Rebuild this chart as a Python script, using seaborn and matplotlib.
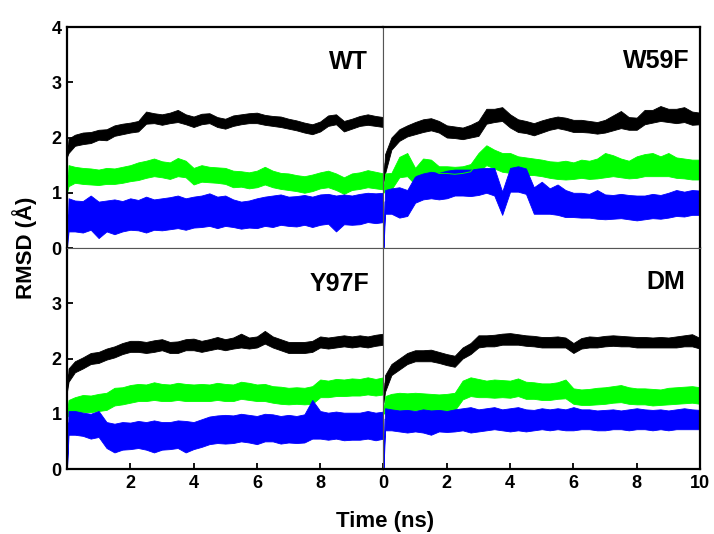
import numpy as np
import pandas as pd
import matplotlib
matplotlib.use("Agg")
import matplotlib.pyplot as plt
import seaborn as sns

# time axis (ns): start point, first frame, then every 0.25 ns
TIME_NS = np.r_[0.0, 0.05, np.arange(0.25, 10.01, 0.25)]

# ------------------ RMSD envelopes (lower / upper edge of each noisy trace) ------------------
WT_BLACK_HI = [1.65, 1.98, 2.05, 2.09, 2.10, 2.14, 2.15, 2.22, 2.25, 2.27, 2.30, 2.47, 2.44, 2.42,
               2.45, 2.50, 2.42, 2.38, 2.43, 2.44, 2.37, 2.34, 2.40, 2.42, 2.44, 2.45, 2.41, 2.39,
               2.38, 2.34, 2.31, 2.27, 2.24, 2.29, 2.40, 2.42, 2.30, 2.34, 2.39, 2.42, 2.39, 2.37]
WT_BLACK_LO = [1.65, 1.72, 1.85, 1.88, 1.90, 1.96, 1.95, 2.03, 2.06, 2.09, 2.11, 2.25, 2.26, 2.23,
               2.26, 2.28, 2.24, 2.19, 2.24, 2.26, 2.19, 2.16, 2.21, 2.24, 2.26, 2.26, 2.23, 2.21,
               2.19, 2.16, 2.13, 2.09, 2.06, 2.11, 2.21, 2.24, 2.11, 2.16, 2.21, 2.23, 2.21, 2.19]
WT_GREEN_HI = [1.00, 1.50, 1.47, 1.45, 1.44, 1.42, 1.45, 1.44, 1.47, 1.50, 1.55, 1.58, 1.62, 1.57,
               1.55, 1.63, 1.58, 1.45, 1.50, 1.47, 1.46, 1.45, 1.40, 1.39, 1.37, 1.40, 1.47, 1.40,
               1.36, 1.35, 1.32, 1.30, 1.33, 1.37, 1.40, 1.35, 1.28, 1.35, 1.37, 1.41, 1.38, 1.35]
WT_GREEN_LO = [1.00, 1.12, 1.18, 1.16, 1.15, 1.14, 1.16, 1.16, 1.18, 1.21, 1.23, 1.27, 1.30, 1.28,
               1.25, 1.30, 1.28, 1.15, 1.20, 1.19, 1.18, 1.16, 1.10, 1.11, 1.08, 1.10, 1.15, 1.10,
               1.07, 1.05, 1.03, 1.00, 1.03, 1.08, 1.10, 1.05, 0.98, 1.05, 1.07, 1.10, 1.08, 1.06]
WT_BLUE_HI = [0.00, 0.90, 0.86, 0.85, 0.95, 0.84, 0.86, 0.88, 0.85, 0.90, 0.87, 0.93, 0.88, 0.90,
              0.92, 0.95, 0.90, 0.93, 0.95, 0.99, 0.93, 0.95, 0.88, 0.84, 0.86, 0.90, 0.93, 0.95,
              0.97, 0.93, 0.94, 0.96, 0.93, 0.97, 0.98, 0.95, 0.97, 0.95, 0.98, 1.00, 0.99, 1.00]
WT_BLUE_LO = [0.00, 0.30, 0.30, 0.28, 0.33, 0.18, 0.30, 0.25, 0.30, 0.33, 0.32, 0.28, 0.33, 0.32,
              0.34, 0.36, 0.33, 0.37, 0.38, 0.40, 0.36, 0.40, 0.38, 0.35, 0.37, 0.36, 0.40, 0.38,
              0.42, 0.40, 0.39, 0.42, 0.38, 0.42, 0.44, 0.30, 0.43, 0.42, 0.43, 0.47, 0.45, 0.47]

W59F_BLACK_HI = [1.20, 1.70, 2.00, 2.15, 2.22, 2.28, 2.33, 2.35, 2.30, 2.22, 2.20, 2.18, 2.23, 2.30,
                 2.52, 2.52, 2.55, 2.42, 2.33, 2.30, 2.26, 2.31, 2.35, 2.38, 2.36, 2.32, 2.32, 2.30,
                 2.28, 2.32, 2.40, 2.48, 2.37, 2.36, 2.50, 2.50, 2.57, 2.52, 2.52, 2.55, 2.47, 2.45]
W59F_BLACK_LO = [1.20, 1.35, 1.78, 1.94, 2.02, 2.06, 2.10, 2.13, 2.09, 2.00, 1.99, 1.97, 2.00, 2.03,
                 2.25, 2.28, 2.30, 2.18, 2.10, 2.08, 2.04, 2.09, 2.14, 2.17, 2.14, 2.10, 2.10, 2.09,
                 2.07, 2.09, 2.13, 2.17, 2.14, 2.14, 2.24, 2.27, 2.30, 2.28, 2.26, 2.28, 2.23, 2.24]
W59F_GREEN_HI = [1.00, 1.35, 1.36, 1.65, 1.72, 1.45, 1.62, 1.60, 1.48, 1.48, 1.47, 1.48, 1.52, 1.72,
                 1.86, 1.78, 1.72, 1.72, 1.66, 1.64, 1.62, 1.60, 1.57, 1.56, 1.58, 1.55, 1.60, 1.58,
                 1.62, 1.72, 1.68, 1.62, 1.58, 1.66, 1.70, 1.72, 1.66, 1.72, 1.64, 1.62, 1.60, 1.60]
W59F_GREEN_LO = [1.00, 1.05, 1.06, 1.28, 1.30, 1.15, 1.28, 1.26, 1.22, 1.22, 1.20, 1.22, 1.24, 1.38,
                 1.50, 1.44, 1.38, 1.36, 1.34, 1.32, 1.32, 1.30, 1.27, 1.25, 1.24, 1.25, 1.27, 1.25,
                 1.26, 1.28, 1.30, 1.28, 1.26, 1.27, 1.30, 1.30, 1.30, 1.30, 1.27, 1.26, 1.24, 1.24]
W59F_BLUE_HI = [0.00, 1.05, 1.08, 1.10, 1.05, 1.30, 1.35, 1.38, 1.36, 1.40, 1.42, 1.42, 1.42, 1.44,
                1.45, 1.45, 1.02, 1.45, 1.48, 1.44, 1.10, 1.20, 1.08, 1.15, 1.05, 1.00, 1.00, 0.98,
                1.05, 0.97, 0.96, 0.98, 0.96, 0.95, 0.95, 0.98, 0.96, 1.00, 1.05, 1.02, 1.05, 1.04]
W59F_BLUE_LO = [0.00, 0.62, 0.62, 0.55, 0.58, 0.82, 0.88, 0.90, 0.88, 0.90, 0.95, 0.95, 0.94, 0.96,
                1.00, 0.95, 0.60, 1.02, 1.02, 0.98, 0.62, 0.62, 0.62, 0.60, 0.56, 0.56, 0.55, 0.55,
                0.53, 0.52, 0.53, 0.54, 0.52, 0.50, 0.52, 0.54, 0.53, 0.55, 0.58, 0.57, 0.60, 0.60]

Y97F_BLACK_HI = [1.40, 1.82, 1.95, 2.02, 2.10, 2.12, 2.18, 2.22, 2.28, 2.32, 2.32, 2.30, 2.33, 2.35,
                 2.30, 2.31, 2.35, 2.36, 2.32, 2.35, 2.39, 2.35, 2.38, 2.45, 2.38, 2.40, 2.50, 2.40,
                 2.35, 2.30, 2.30, 2.30, 2.32, 2.40, 2.38, 2.40, 2.42, 2.40, 2.42, 2.40, 2.43, 2.45]
Y97F_BLACK_LO = [1.40, 1.58, 1.75, 1.82, 1.90, 1.92, 1.98, 2.02, 2.08, 2.12, 2.12, 2.10, 2.12, 2.15,
                 2.10, 2.10, 2.15, 2.15, 2.12, 2.15, 2.18, 2.15, 2.18, 2.20, 2.18, 2.20, 2.27, 2.20,
                 2.15, 2.10, 2.10, 2.10, 2.12, 2.20, 2.18, 2.20, 2.22, 2.20, 2.22, 2.20, 2.23, 2.25]
Y97F_GREEN_HI = [1.00, 1.25, 1.30, 1.34, 1.33, 1.36, 1.38, 1.47, 1.48, 1.52, 1.54, 1.53, 1.57, 1.54,
                 1.53, 1.56, 1.54, 1.53, 1.54, 1.53, 1.56, 1.54, 1.53, 1.58, 1.56, 1.53, 1.54, 1.50,
                 1.49, 1.47, 1.48, 1.47, 1.50, 1.62, 1.60, 1.63, 1.62, 1.64, 1.63, 1.66, 1.63, 1.66]
Y97F_GREEN_LO = [1.00, 0.95, 1.00, 1.03, 1.03, 1.05, 1.07, 1.15, 1.17, 1.20, 1.23, 1.23, 1.25, 1.23,
                 1.23, 1.25, 1.23, 1.23, 1.23, 1.23, 1.25, 1.23, 1.23, 1.27, 1.25, 1.23, 1.23, 1.20,
                 1.18, 1.17, 1.18, 1.17, 1.18, 1.30, 1.30, 1.32, 1.32, 1.33, 1.33, 1.35, 1.33, 1.35]
Y97F_BLUE_HI = [0.00, 1.05, 1.05, 1.02, 1.00, 1.05, 0.85, 0.82, 0.85, 0.84, 0.87, 0.85, 0.88, 0.85,
                0.85, 0.88, 0.87, 0.85, 0.90, 0.95, 0.97, 0.98, 0.97, 1.00, 0.98, 0.96, 1.00, 0.99,
                0.96, 0.98, 0.96, 0.99, 1.25, 1.05, 1.02, 1.04, 1.02, 1.02, 1.02, 1.05, 1.02, 1.04]
Y97F_BLUE_LO = [0.00, 0.62, 0.62, 0.60, 0.55, 0.58, 0.38, 0.30, 0.35, 0.36, 0.38, 0.35, 0.30, 0.35,
                0.36, 0.38, 0.30, 0.36, 0.40, 0.45, 0.47, 0.46, 0.47, 0.50, 0.48, 0.45, 0.50, 0.50,
                0.46, 0.48, 0.47, 0.48, 0.55, 0.55, 0.53, 0.55, 0.52, 0.53, 0.53, 0.55, 0.52, 0.55]

DM_BLACK_HI = [1.20, 1.70, 1.90, 2.00, 2.10, 2.15, 2.15, 2.16, 2.12, 2.08, 2.05, 2.20, 2.28, 2.42,
               2.42, 2.43, 2.45, 2.46, 2.44, 2.42, 2.41, 2.39, 2.39, 2.40, 2.38, 2.28, 2.37, 2.40,
               2.39, 2.41, 2.42, 2.41, 2.40, 2.39, 2.39, 2.38, 2.39, 2.38, 2.40, 2.42, 2.44, 2.37]
DM_BLACK_LO = [1.20, 1.40, 1.70, 1.80, 1.90, 1.95, 1.95, 1.95, 1.92, 1.88, 1.85, 2.00, 2.08, 2.20,
               2.22, 2.22, 2.25, 2.25, 2.25, 2.23, 2.22, 2.20, 2.20, 2.20, 2.20, 2.10, 2.18, 2.20,
               2.20, 2.22, 2.23, 2.22, 2.22, 2.20, 2.20, 2.20, 2.20, 2.20, 2.20, 2.22, 2.22, 2.18]
DM_GREEN_HI = [1.00, 1.32, 1.36, 1.38, 1.37, 1.38, 1.37, 1.36, 1.35, 1.36, 1.38, 1.60, 1.66, 1.63,
               1.60, 1.62, 1.61, 1.60, 1.64, 1.58, 1.57, 1.55, 1.55, 1.57, 1.62, 1.46, 1.44, 1.45,
               1.47, 1.48, 1.50, 1.52, 1.48, 1.46, 1.46, 1.45, 1.44, 1.47, 1.48, 1.49, 1.50, 1.48]
DM_GREEN_LO = [1.00, 1.02, 1.05, 1.07, 1.06, 1.06, 1.07, 1.04, 1.05, 1.04, 1.06, 1.26, 1.32, 1.30,
               1.30, 1.29, 1.30, 1.29, 1.32, 1.27, 1.27, 1.25, 1.25, 1.27, 1.28, 1.18, 1.16, 1.16,
               1.17, 1.18, 1.20, 1.21, 1.18, 1.17, 1.17, 1.15, 1.16, 1.17, 1.18, 1.19, 1.20, 1.18]
DM_BLUE_HI = [0.00, 1.10, 1.08, 1.06, 1.07, 1.05, 1.08, 1.06, 1.07, 1.05, 1.08, 1.10, 1.12, 1.08,
              1.10, 1.12, 1.08, 1.10, 1.12, 1.08, 1.07, 1.10, 1.08, 1.10, 1.08, 1.12, 1.08, 1.08,
              1.06, 1.07, 1.08, 1.06, 1.08, 1.10, 1.08, 1.07, 1.08, 1.06, 1.08, 1.10, 1.08, 1.07]
DM_BLUE_LO = [0.00, 0.70, 0.70, 0.68, 0.66, 0.68, 0.66, 0.62, 0.68, 0.67, 0.68, 0.70, 0.66, 0.68,
              0.70, 0.72, 0.70, 0.68, 0.70, 0.68, 0.70, 0.72, 0.70, 0.72, 0.70, 0.70, 0.72, 0.72,
              0.70, 0.70, 0.72, 0.72, 0.70, 0.72, 0.72, 0.70, 0.72, 0.70, 0.72, 0.72, 0.72, 0.72]

PANELS = ["WT", "W59F", "Y97F", "DM"]
SERIES = {
    "WT": [(WT_BLACK_LO, WT_BLACK_HI, "#000000"), (WT_GREEN_LO, WT_GREEN_HI, "#00ff00"),
           (WT_BLUE_LO, WT_BLUE_HI, "#0000ff")],
    "W59F": [(W59F_BLACK_LO, W59F_BLACK_HI, "#000000"), (W59F_GREEN_LO, W59F_GREEN_HI, "#00ff00"),
             (W59F_BLUE_LO, W59F_BLUE_HI, "#0000ff")],
    "Y97F": [(Y97F_BLACK_LO, Y97F_BLACK_HI, "#000000"), (Y97F_GREEN_LO, Y97F_GREEN_HI, "#00ff00"),
             (Y97F_BLUE_LO, Y97F_BLUE_HI, "#0000ff")],
    "DM": [(DM_BLACK_LO, DM_BLACK_HI, "#000000"), (DM_GREEN_LO, DM_GREEN_HI, "#00ff00"),
           (DM_BLUE_LO, DM_BLUE_HI, "#0000ff")],
}
LABEL_POS = {"WT": (0.95, 0.842), "W59F": (0.968, 0.846), "Y97F": (0.956, 0.837), "DM": (0.953, 0.846)}


def envelope_frame(lo, hi):
    return pd.DataFrame({"time": np.r_[TIME_NS, TIME_NS], "rmsd": np.r_[lo, hi]})


sns.set_style("ticks", {"text.color": "black", "axes.labelcolor": "black",
                        "xtick.color": "black", "ytick.color": "black"})
plt.rcParams["font.family"] = ["Liberation Sans", "DejaVu Sans"]
plt.rcParams["font.weight"] = "bold"

fig, axes = plt.subplots(2, 2, figsize=(7.14, 5.34), dpi=100)
fig.subplots_adjust(left=0.0938, right=0.9804, top=0.9494, bottom=0.1217, wspace=0, hspace=0)

inner = {0: ["right", "bottom"], 1: ["left", "bottom"], 2: ["top", "right"], 3: ["top", "left"]}

for i, (ax, name) in enumerate(zip(axes.flat, PANELS)):
    for lo, hi, col in SERIES[name]:
        # min-max band of the two edges = noisy trace envelope
        sns.lineplot(data=envelope_frame(lo, hi), x="time", y="rmsd", estimator="mean",
                     errorbar=("pi", 100), color=col, lw=0.7,
                     err_kws={"alpha": 1, "lw": 0.6, "edgecolor": col}, ax=ax)
    ax.set_xlim(0, 10)
    ax.set_ylim(0, 4)
    ax.set_xlabel("")
    ax.set_ylabel("")
    for side, sp in ax.spines.items():
        sp.set_visible(True)
        sp.set_color("#000000")
        sp.set_linewidth(1.6)
    for side in inner[i]:
        ax.spines[side].set_color("#555555")
        ax.spines[side].set_linewidth(0.8)
    ax.tick_params(direction="in", length=4, width=1.3, labelsize=13, pad=4, colors="black")
    tx, ty = LABEL_POS[name]
    ax.text(tx, ty, name, transform=ax.transAxes, ha="right", va="center",
            fontsize=18, fontweight="bold", color="black")

axes[0, 0].set_yticks([0, 1, 2, 3, 4])
axes[1, 0].set_yticks([0, 1, 2, 3])
axes[1, 0].set_xticks([2, 4, 6, 8])
axes[1, 1].set_xticks([0, 2, 4, 6, 8, 10])
for ax in axes[0]:
    ax.tick_params(bottom=False, labelbottom=False)
for ax in axes[:, 1]:
    ax.tick_params(left=False, labelleft=False)

fig.text(25 / 714, 1 - 248 / 534, "RMSD (Å)", rotation=90, ha="center", va="center",
         fontsize=16, fontweight="bold", color="black")
fig.text(385 / 714, 1 - 521 / 534, "Time (ns)", ha="center", va="center",
         fontsize=16, fontweight="bold", color="black")

fig.savefig("out.png", dpi=100)
